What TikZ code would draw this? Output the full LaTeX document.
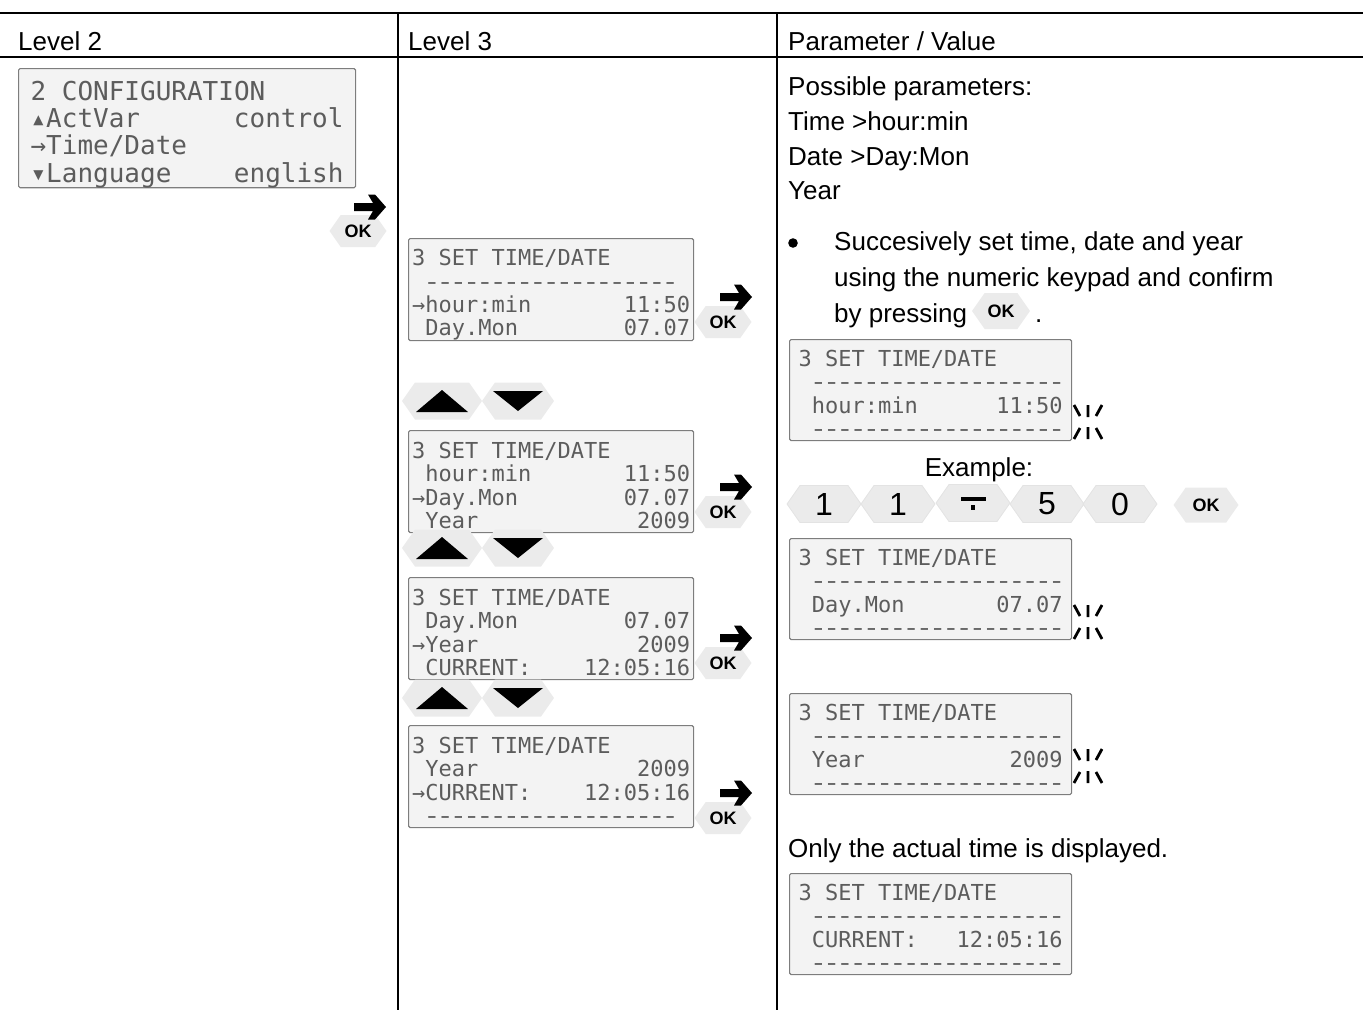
\documentclass[tikz,border=0pt]{standalone}
\usepackage{fontspec}
\usepackage{graphicx}
\setmainfont{Liberation Sans}
\newfontfamily\lcdfont[Ligatures=TeXOff]{DejaVu Sans Mono}
\usetikzlibrary{shapes.symbols}
\definecolor{LcdFill}{RGB}{243,243,243}
\definecolor{LcdEdge}{RGB}{125,125,125}
\definecolor{LcdInk}{RGB}{92,92,92}
\definecolor{KeyGray}{RGB}{235,235,235}

\newcommand\lcdrow[2]{\makebox[\hsize][l]{#1\hfill#2}}
\newcommand\lcdtop[1]{\rule{0pt}{#1pt}}
\newcommand\lsp{\hphantom{0}}
\newcommand\lcdbar{\sbox0{0}\makebox[\wd0]{\scalebox{1.3}[1]{-}}}
\newcommand\lcddash{\lsp\foreach\k in {1,...,19}{\lcdbar}}
\newcommand\okarrow[1]{\fill (#1) ++(-16,-4) -- ++(19,0) -- ++(-5,-8.5) -- ++(7,0)
  -- ++(11,12.5) -- ++(-11,12.5) -- ++(-7,0) -- ++(5,-8.5) -- ++(-19,0) -- cycle;}
\newcommand\blink[1]{\draw[blinkray] (#1) ++(-14,-17) -- ++(6,11)
  (#1) ++(0,-17) -- ++(0,12) (#1) ++(14,-17) -- ++(-6,11)
  (#1) ++(-14,17) -- ++(6,-11) (#1) ++(0,17) -- ++(0,-12)
  (#1) ++(14,17) -- ++(-6,-11);}

\tikzset{
  txt/.style={inner sep=0pt, anchor=base west, font=\fontsize{26}{34.6}\selectfont},
  lcd/.style={draw=LcdEdge, fill=LcdFill, line width=1.1pt, rounded corners=1.5pt,
    anchor=north west, align=left, text=LcdInk, inner ysep=0pt},
  lcdbig/.style={lcd, font=\lcdfont\fontsize{26}{27.2}\selectfont,
    inner xsep=12pt, text width=313pt, minimum height=119pt},
  lcdmid/.style={lcd, font=\lcdfont\fontsize{22}{23.3}\selectfont,
    inner xsep=3.5pt, text width=278pt, minimum height=102pt},
  lcdpar/.style={lcd, font=\lcdfont\fontsize{22}{23.3}\selectfont,
    inner xsep=9pt, text width=264pt, minimum height=101pt},
  hexkey/.style={signal, signal to=east and west, signal pointer angle=110,
    fill=KeyGray, inner sep=0pt},
  okkey/.style={hexkey, minimum width=57pt, minimum height=32pt,
    font=\bfseries\fontsize{18}{18}\selectfont},
  navkey/.style={hexkey, minimum height=37pt},
  numkey/.style={hexkey, draw=gray!22, line width=.8pt, minimum width=74pt,
    minimum height=37pt, font=\fontsize{32}{32}\selectfont},
  blinkray/.style={line width=2.8pt}
}

\begin{document}
\begin{tikzpicture}[x=1pt,y=-1pt]
  \useasboundingbox (0,0) rectangle (1363,1010);
  % table rules
  \draw[line width=2.6pt] (0,13) -- (1363,13);
  \draw[line width=2pt] (0,57) -- (1363,57);
  \draw[line width=1.4pt] (398,13) -- (398,1010);
  \draw[line width=1.4pt] (777,13) -- (777,1010);
  \node[txt] (hdLevelTwo) at (18,50) {Level 2};
  \node[txt] (hdLevelThree) at (408,50) {Level 3};
  \node[txt] (hdParam) at (788,50) {Parameter / Value};

  % level 2
  \node[lcdbig] (cfgMenu) at (18,68) {%
    \lcdrow{\lcdtop{32}2\lsp CONFIGURATION}{}\\
    \lcdrow{▴ActVar}{control}\\
    \lcdrow{→Time/Date}{}\\
    \lcdrow{▾Language}{english}};
  \node[okkey] (okCfg) at (358,231) {OK};
  \coordinate (arCfg) at (370,207);
  \okarrow{arCfg}

  % level 3
  \node[lcdmid] (setHour) at (408,238) {%
    \lcdrow{\lcdtop{27}3\lsp SET\lsp TIME/DATE}{}\\
    \lcdrow{\lcddash}{}\\
    \lcdrow{→hour:min}{11:50}\\
    \lcdrow{\lsp Day.Mon}{07.07}};
  \node[lcdmid] (setDay) at (408,430) {%
    \lcdrow{\lcdtop{24}3\lsp SET\lsp TIME/DATE}{}\\
    \lcdrow{\lsp hour:min}{11:50}\\
    \lcdrow{→Day.Mon}{07.07}\\
    \lcdrow{\lsp Year}{2009}};
  \node[lcdmid] (setYear) at (408,577) {%
    \lcdrow{\lcdtop{24}3\lsp SET\lsp TIME/DATE}{}\\
    \lcdrow{\lsp Day.Mon}{07.07}\\
    \lcdrow{→Year}{2009}\\
    \lcdrow{\lsp CURRENT:}{12:05:16}};
  \node[lcdmid] (setCurrent) at (408,725) {%
    \lcdrow{\lcdtop{24}3\lsp SET\lsp TIME/DATE}{}\\
    \lcdrow{\lsp Year}{2009}\\
    \lcdrow{→CURRENT:}{12:05:16}\\
    \lcdrow{\lcddash}{}};
  \foreach \nm/\y in {Hour/322,Day/512,Year/663,Current/818}{
    \node[okkey] (ok\nm) at (723,\y) {OK};
    \coordinate (ar\nm) at (736,\y-25);
    \okarrow{ar\nm}
  }
  \foreach \y [count=\i] in {401,548,698}{
    \node[navkey, minimum width=80pt] (up\i) at (442,\y) {};
    \node[navkey, minimum width=72pt] (down\i) at (518,\y) {};
    \fill (up\i.center) ++(-26,11) -- ++(52,0) -- ++(-26,-22) -- cycle;
    \fill (down\i.center) ++(-25,-10) -- ++(50,0) -- ++(-25,20) -- cycle;
  }

  % parameter / value
  \node[txt] (possible) at (788,95) {Possible parameters:};
  \node[txt] (parTime) at (788,130) {Time >hour:min};
  \node[txt] (parDate) at (788,165) {Date >Day:Mon};
  \node[txt] (parYear) at (788,199) {Year};
  \fill (793,243) circle (4.8);
  \node[txt] (stepA) at (834,250) {Succesively set time, date and year};
  \node[txt] (stepB) at (834,286) {using the numeric keypad and confirm};
  \node[txt] (stepC) at (834,322) {by pressing};
  \node[okkey, minimum width=58pt, minimum height=36pt] (okInline) at (1001,311) {OK};
  \node[txt] (stepDot) at (1035,322) {.};

  \node[lcdpar] (showHour) at (789,339) {%
    \lcdrow{\lcdtop{23}3\lsp SET\lsp TIME/DATE}{}\\
    \lcdrow{\lcddash}{}\\
    \lcdrow{\lsp hour:min}{11:50}\\
    \lcdrow{\lcddash}{}};
  \coordinate (blHour) at (1088,422);
  \blink{blHour}

  \node[txt, anchor=base] (example) at (979,476) {Example:};
  \node[numkey] (keyA) at (824,504) {1};
  \node[numkey] (keyB) at (898,504) {1};
  \node[numkey] (keyC) at (973,503) {};
  \fill (keyC.center) ++(-12.5,-6.5) rectangle ++(25,4);
  \fill (keyC.center) ++(-2,2) rectangle ++(4,5);
  \node[numkey] (keyD) at (1047,504) {5};
  \node[numkey] (keyE) at (1120,504) {0};
  \node[okkey, minimum width=65pt, minimum height=35pt] (okKeys) at (1206,505) {OK};

  \node[lcdpar] (showDay) at (789,538) {%
    \lcdrow{\lcdtop{23}3\lsp SET\lsp TIME/DATE}{}\\
    \lcdrow{\lcddash}{}\\
    \lcdrow{\lsp Day.Mon}{07.07}\\
    \lcdrow{\lcddash}{}};
  \coordinate (blDay) at (1088,622);
  \blink{blDay}

  \node[lcdpar] (showYear) at (789,693) {%
    \lcdrow{\lcdtop{23}3\lsp SET\lsp TIME/DATE}{}\\
    \lcdrow{\lcddash}{}\\
    \lcdrow{\lsp Year}{2009}\\
    \lcdrow{\lcddash}{}};
  \coordinate (blYear) at (1088,766);
  \blink{blYear}

  \node[txt] (onlyActual) at (788,857) {Only the actual time is displayed.};
  \node[lcdpar] (showCurrent) at (789,873) {%
    \lcdrow{\lcdtop{23}3\lsp SET\lsp TIME/DATE}{}\\
    \lcdrow{\lcddash}{}\\
    \lcdrow{\lsp CURRENT:}{12:05:16}\\
    \lcdrow{\lcddash}{}};
\end{tikzpicture}
\end{document}
